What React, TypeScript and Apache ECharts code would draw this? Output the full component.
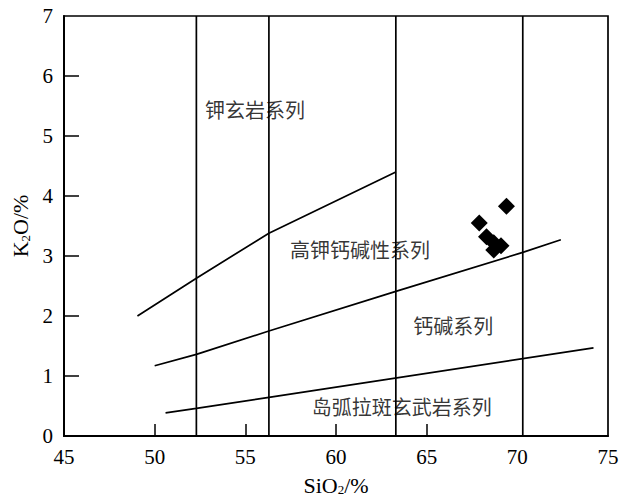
import React, { useEffect, useRef } from "react";
import * as echarts from "echarts";

// SiO2 boundaries (vertical dividers)
const dividerSiO2 = [52.3, 56.3, 63.3, 70.3];

// Shoshonite / high-K calc-alkaline boundary
const shoshoniteSiO2 = [49.05, 52.3, 56.3, 63.3];
const shoshoniteK2O = [2.0, 2.63, 3.38, 4.4];

// High-K calc-alkaline / calc-alkaline boundary
const highKSiO2 = [50.0, 52.3, 56.3, 63.3, 70.3, 72.4];
const highKK2O = [1.17, 1.36, 1.75, 2.41, 3.06, 3.27];

// Calc-alkaline / island-arc tholeiite boundary
const calcSiO2 = [50.6, 52.3, 56.3, 74.2];
const calcK2O = [0.385, 0.46, 0.645, 1.47];

// Samples
const sampleSiO2 = [67.9, 69.4, 68.3, 68.7, 69.1, 68.7];
const sampleK2O = [3.55, 3.83, 3.32, 3.22, 3.17, 3.1];

// Field names
const fieldNames = ["钾玄岩系列", "高钾钙碱性系列", "钙碱系列", "岛弧拉斑玄武岩系列"];
const fieldSiO2 = [55.53, 61.33, 66.46, 63.63];
const fieldK2O = [5.44, 3.11, 1.85, 0.5];

const xTicks = [45, 50, 55, 60, 65, 70, 75];
const yTicks = [0, 1, 2, 3, 4, 5, 6, 7];

const zip = (a: number[], b: number[]) => a.map((v, i) => [v, b[i]]);

export default function App() {
  const ref = useRef<HTMLDivElement>(null);
  useEffect(() => {
    if (!ref.current) return;
    const chart = echarts.init(ref.current, null, { renderer: "svg" });
    const lineStyle = { color: "#000", width: 1.7 };
    const serif = "Liberation Serif";
    const cjk = "Noto Sans CJK SC";
    const nameRich = {
      a: { fontFamily: serif, fontSize: 22, color: "#000" },
      s: { fontFamily: serif, fontSize: 13, color: "#000", verticalAlign: "bottom", padding: [9, 0, 0, 0] },
    };
    chart.setOption({
      animation: false,
      backgroundColor: "#fff",
      textStyle: { fontFamily: serif, color: "#000" },
      grid: {
        left: 64,
        right: 24,
        top: 16,
        bottom: 62,
        show: true,
        borderColor: "#000",
        borderWidth: 1.7,
      },
      xAxis: {
        type: "value",
        min: xTicks[0],
        max: xTicks[xTicks.length - 1],
        interval: 5,
        name: "{a|SiO}{s|2}{a|/%}",
        nameLocation: "middle",
        nameGap: 38,
        nameTextStyle: { rich: nameRich },
        splitLine: { show: false },
        axisLine: { onZero: false, lineStyle: { color: "#000", width: 2 } },
        axisTick: { inside: true, length: 12, customValues: [50, 55, 60, 65], lineStyle: { color: "#000", width: 1.5 } },
        axisLabel: { color: "#000", fontFamily: serif, fontSize: 21, margin: 10 },
      },
      yAxis: {
        type: "value",
        min: yTicks[0],
        max: yTicks[yTicks.length - 1],
        interval: 1,
        name: "{a|K}{s|2}{a|O/%}",
        nameLocation: "middle",
        nameRotate: 90,
        nameGap: 31,
        nameTextStyle: { rich: nameRich },
        splitLine: { show: false },
        axisLine: { onZero: false, lineStyle: { color: "#000", width: 2 } },
        axisTick: { inside: true, length: 15, customValues: [1, 2, 3, 4, 5, 6], lineStyle: { color: "#000", width: 1.5 } },
        axisLabel: { color: "#000", fontFamily: serif, fontSize: 21, margin: 11 },
      },
      series: [
        ...dividerSiO2.map((x) => ({
          type: "line",
          data: [
            [x, yTicks[0]],
            [x, yTicks[yTicks.length - 1]],
          ],
          symbol: "none",
          lineStyle,
          silent: true,
        })),
        { type: "line", data: zip(shoshoniteSiO2, shoshoniteK2O), symbol: "none", lineStyle, silent: true },
        { type: "line", data: zip(highKSiO2, highKK2O), symbol: "none", lineStyle, silent: true },
        { type: "line", data: zip(calcSiO2, calcK2O), symbol: "none", lineStyle, silent: true },
        {
          type: "scatter",
          data: zip(sampleSiO2, sampleK2O),
          symbol: "diamond",
          symbolSize: 17,
          itemStyle: { color: "#000", opacity: 1 },
          z: 5,
        },
        {
          type: "scatter",
          data: fieldNames.map((n, i) => ({ name: n, value: [fieldSiO2[i], fieldK2O[i]] })),
          symbolSize: 0,
          label: {
            show: true,
            position: "inside",
            formatter: (p: any) => p.name,
            color: "#000",
            fontFamily: cjk,
            fontSize: 20,
          },
          z: 6,
        },
      ],
    });
    return () => chart.dispose();
  }, []);
  return <div ref={ref} style={{ position: "fixed", left: 0, top: 0, width: 632, height: 501 }} />;
}
